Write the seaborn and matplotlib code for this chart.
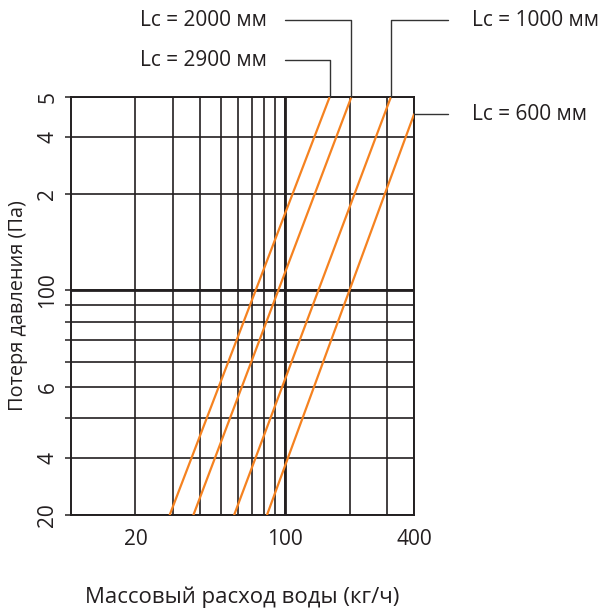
import matplotlib
matplotlib.use("Agg")
import matplotlib.pyplot as plt
import seaborn as sns
import pandas as pd
import numpy as np

# ---- data ----
series_labels = ["Lc = 2900 мм", "Lc = 2000 мм", "Lc = 1000 мм", "Lc = 600 мм"]
flow_2900 = [28.9, 161.5]
dp_2900 = [20, 400]
flow_2000 = [37.3, 204]
dp_2000 = [20, 400]
flow_1000 = [57.8, 312]
dp_1000 = [20, 400]
flow_600 = [82.3, 400]
dp_600 = [20, 353]

x_major = [20, 100, 400]
x_major_labels = ["20", "100", "400"]
x_minor = [30, 40, 50, 60, 70, 80, 90, 200, 300]
y_major = [20, 30, 50, 100, 200, 300, 400]
y_major_labels = ["20", "4", "6", "100", "2", "4", "5"]
y_minor = [40, 60, 70, 80, 90]

x_label = "Массовый расход воды (кг/ч)"
y_label = "Потеря давления (Па)"

df = pd.DataFrame({
    "flow": flow_2900 + flow_2000 + flow_1000 + flow_600,
    "dp": dp_2900 + dp_2000 + dp_1000 + dp_600,
    "series": sum([[s] * 2 for s in series_labels], []),
})

sns.set_style("white")
plt.rcParams["font.family"] = ["Open Sans", "DejaVu Sans"]

ORANGE = "#F58220"
INK = "#231f20"

fig = plt.figure(figsize=(6.05, 6.09), dpi=100)
ax = fig.add_axes([71 / 605, 1 - 515 / 609, (414 - 71) / 605, (515 - 97) / 609])

ax.set_xscale("log")
ax.set_yscale("log")
ax.set_xlim(10, 400)
ax.set_ylim(20, 400)

sns.lineplot(data=df, x="flow", y="dp", hue="series",
             palette=[ORANGE] * 4, legend=False, ax=ax, lw=1.6, zorder=5,
             estimator=None, sort=False)

ax.xaxis.set_major_locator(matplotlib.ticker.FixedLocator(x_major))
ax.xaxis.set_minor_locator(matplotlib.ticker.FixedLocator(x_minor))
ax.set_xticklabels(x_major_labels)
ax.xaxis.set_minor_formatter(matplotlib.ticker.NullFormatter())
ax.yaxis.set_major_locator(matplotlib.ticker.FixedLocator(y_major))
ax.yaxis.set_minor_locator(matplotlib.ticker.FixedLocator(y_minor))
ax.set_yticklabels(y_major_labels, rotation=90, va="center")
ax.yaxis.set_minor_formatter(matplotlib.ticker.NullFormatter())

ax.tick_params(axis="x", which="both", length=0, pad=10, labelsize=15, colors=INK)
ax.tick_params(axis="y", which="both", length=4, width=1.1, pad=5, labelsize=15,
               colors=INK, direction="out", left=True)

ax.grid(True, which="both", color=INK, lw=1.2, zorder=1)
ax.axvline(100, color=INK, lw=2.0, zorder=2)
ax.axhline(100, color=INK, lw=2.0, zorder=2)
for sp in ax.spines.values():
    sp.set_color(INK)
    sp.set_linewidth(1.4)
    sp.set_visible(True)

ax.set_xlabel(x_label, fontsize=16, color=INK, labelpad=26)
ax.set_ylabel(y_label, fontsize=14.3, color=INK, labelpad=7)

# ---- leader annotations ----
lead_kw = dict(color="#333333", lw=1.0, clip_on=False)
trans = fig.transFigure

def fx(px):
    return px / 605

def fy(py):
    return 1 - py / 609

def top_px(xval):
    disp = ax.transData.transform((xval, 400))
    return disp[0]

fig.canvas.draw()
x2900 = top_px(flow_2900[1])
x2000 = top_px(flow_2000[1])
x1000 = top_px(flow_1000[1])
_, y600 = ax.transData.transform((400, dp_600[1]))
xr = ax.transData.transform((400, 400))[0]
ytop = ax.transData.transform((400, 400))[1]

from matplotlib.lines import Line2D
def add_line(xs, ys):
    fig.add_artist(Line2D([x / 605 for x in xs], [y / 609 for y in ys],
                          transform=trans, **lead_kw))

H = 609
add_line([285, x2000, x2000], [H - 20, H - 20, ytop])
add_line([285, x2900, x2900], [H - 60, H - 60, ytop])
add_line([448, x1000, x1000], [H - 20, H - 20, ytop])
add_line([448, xr], [y600, y600])

lab_fs = 15
fig.text(fx(140), fy(21), series_labels[1], fontsize=lab_fs, color=INK, va="center", ha="left")
fig.text(fx(140), fy(60), series_labels[0], fontsize=lab_fs, color=INK, va="center", ha="left")
fig.text(fx(472), fy(21), series_labels[2], fontsize=lab_fs, color=INK, va="center", ha="left")
fig.text(fx(472), y600 / 609, series_labels[3], fontsize=lab_fs, color=INK, va="center", ha="left")

fig.savefig("out.png", dpi=100)
